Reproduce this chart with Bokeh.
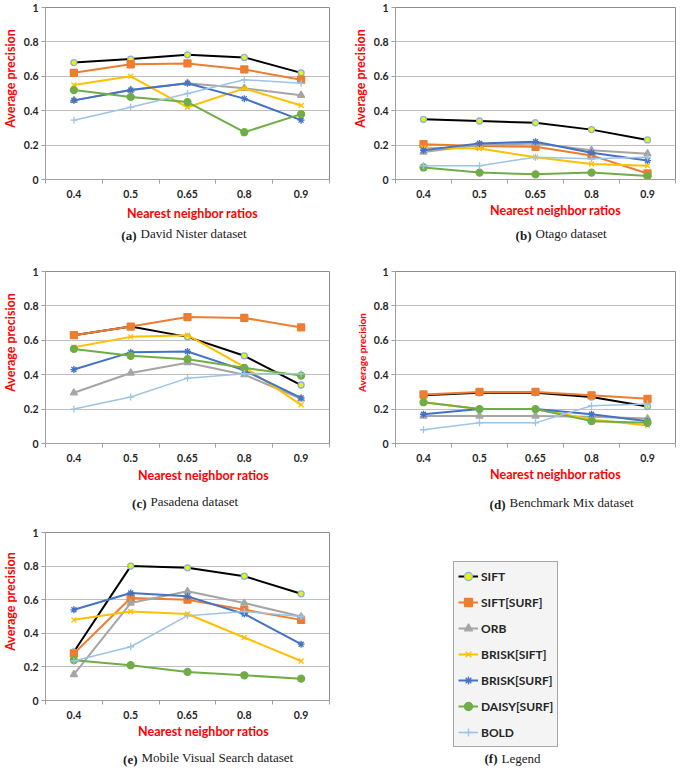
import math
from bokeh.plotting import figure
from bokeh.layouts import column, row
from bokeh.models import Range1d, FixedTicker, Label, Legend, LegendItem, ColumnDataSource
from bokeh.embed import file_html
from bokeh.resources import INLINE

# ---------------- data ----------------
ratios = ["0.4", "0.5", "0.65", "0.8", "0.9"]
methods = ["SIFT", "SIFT[SURF]", "ORB", "BRISK[SIFT]", "BRISK[SURF]", "DAISY[SURF]", "BOLD"]
y_ticks = [0, 0.2, 0.4, 0.6, 0.8, 1.0]
y_tick_labels = ["0", "0.2", "0.4", "0.6", "0.8", "1"]

# (a) David Nister dataset
nister_sift = [0.68, 0.70, 0.725, 0.71, 0.62]
nister_sift_surf = [0.62, 0.67, 0.675, 0.64, 0.58]
nister_orb = [0.46, 0.52, 0.56, 0.53, 0.49]
nister_brisk_sift = [0.55, 0.60, 0.42, 0.53, 0.43]
nister_brisk_surf = [0.46, 0.52, 0.56, 0.47, 0.345]
nister_daisy_surf = [0.52, 0.48, 0.45, 0.275, 0.38]
nister_bold = [0.345, 0.42, 0.50, 0.58, 0.56]

# (b) Otago dataset
otago_sift = [0.35, 0.34, 0.33, 0.29, 0.23]
otago_sift_surf = [0.205, 0.195, 0.19, 0.14, 0.035]
otago_orb = [0.16, 0.20, 0.21, 0.17, 0.15]
otago_brisk_sift = [0.185, 0.18, 0.13, 0.09, 0.08]
otago_brisk_surf = [0.17, 0.21, 0.22, 0.155, 0.11]
otago_daisy_surf = [0.07, 0.04, 0.03, 0.04, 0.02]
otago_bold = [0.08, 0.08, 0.13, 0.12, 0.13]

# (c) Pasadena dataset
pasadena_sift = [0.63, 0.68, 0.62, 0.51, 0.34]
pasadena_sift_surf = [0.63, 0.68, 0.735, 0.73, 0.675]
pasadena_orb = [0.295, 0.41, 0.47, 0.40, 0.26]
pasadena_brisk_sift = [0.56, 0.62, 0.63, 0.445, 0.225]
pasadena_brisk_surf = [0.43, 0.53, 0.535, 0.425, 0.265]
pasadena_daisy_surf = [0.55, 0.51, 0.49, 0.44, 0.395]
pasadena_bold = [0.20, 0.27, 0.38, 0.405, 0.405]

# (d) Benchmark Mix dataset
mix_sift = [0.28, 0.295, 0.295, 0.27, 0.215]
mix_sift_surf = [0.285, 0.30, 0.30, 0.28, 0.26]
mix_orb = [0.16, 0.16, 0.16, 0.155, 0.145]
mix_brisk_sift = [0.24, 0.20, 0.20, 0.14, 0.105]
mix_brisk_surf = [0.17, 0.20, 0.20, 0.17, 0.13]
mix_daisy_surf = [0.24, 0.20, 0.20, 0.13, 0.12]
mix_bold = [0.08, 0.12, 0.12, 0.22, 0.23]

# (e) Mobile Visual Search dataset
mvs_sift = [0.29, 0.80, 0.79, 0.74, 0.635]
mvs_sift_surf = [0.28, 0.61, 0.60, 0.54, 0.48]
mvs_orb = [0.155, 0.58, 0.65, 0.58, 0.50]
mvs_brisk_sift = [0.48, 0.53, 0.515, 0.375, 0.235]
mvs_brisk_surf = [0.54, 0.64, 0.62, 0.515, 0.335]
mvs_daisy_surf = [0.24, 0.21, 0.17, 0.15, 0.13]
mvs_bold = [0.235, 0.32, 0.505, 0.53, 0.50]

# ---------------- styles ----------------
STYLE = {
    "SIFT":        dict(line="#000000", marker="circle",   fill="#F2F200", edge="#7FB2E5", size=6, lw=2),
    "SIFT[SURF]":  dict(line="#ED7D31", marker="square",   fill="#ED7D31", edge="#ED7D31", size=7, lw=2),
    "ORB":         dict(line="#A5A5A5", marker="triangle", fill="#A5A5A5", edge="#A5A5A5", size=7, lw=2),
    "BRISK[SIFT]": dict(line="#FFC000", marker="x",        fill="#FFC000", edge="#FFC000", size=7, lw=2),
    "BRISK[SURF]": dict(line="#4472C4", marker="asterisk", fill="#4472C4", edge="#4472C4", size=7, lw=2),
    "DAISY[SURF]": dict(line="#70AD47", marker="circle",   fill="#70AD47", edge="#70AD47", size=7, lw=2),
    "BOLD":        dict(line="#9DC3E6", marker="cross",    fill="#9DC3E6", edge="#9DC3E6", size=7, lw=1.5),
}
SANS = "Lato"
SERIF = "Liberation Serif"
RED = "#FF0000"
AXIS_GRAY = "#A0A0A0"
TXT = "#1a1a1a"

# estimated sizes of stacked side-panel items (px)
H_AXIS = 19.0
H_XT = 15.0
H_CAP = 16.4
W_YAXIS = 22.0
H_YT = {12.5: 15.0, 10: 12.0}

LEFT = dict(width=337, bl=45, br=8)
RIGHT = dict(width=340, bl=58, br=2)
ROWS = [dict(height=265, bt=7, fh=172), dict(height=261, bt=6, fh=172), dict(height=243, bt=6, fh=168)]


def base_figure(col, rw, y_range=(0, 1), axes=True):
    kw = dict(width=col["width"], height=rw["height"],
              x_range=Range1d(-0.5, len(ratios) - 0.5), y_range=Range1d(*y_range),
              toolbar_location=None, output_backend="svg",
              min_border_left=col["bl"], min_border_right=col["br"],
              min_border_top=rw["bt"],
              min_border_bottom=rw["height"] - rw["bt"] - rw["fh"])
    if not axes:
        kw.update(x_axis_type=None, y_axis_type=None)
    p = figure(**kw)
    p.background_fill_color = "white"
    p.border_fill_color = "white"
    return p


def draw_series(p, series):
    xs = list(range(len(ratios)))
    rends = []
    for m, ys in zip(methods, series):
        st = STYLE[m]
        src = ColumnDataSource(dict(x=xs, y=ys))
        lr = p.line("x", "y", source=src, line_color=st["line"], line_width=st["lw"])
        sr = p.scatter("x", "y", source=src, marker=st["marker"], size=st["size"],
                       fill_color=st["fill"], line_color=st["edge"], line_width=1.3)
        rends.append((lr, sr))
    return rends


def add_caption(p, letter, caption, right_x, target, start):
    """Two labels in the bottom panel: bold letter + normal caption text."""
    off = start + H_CAP
    p.add_layout(Label(x=right_x, y=off - target, x_units="screen", y_units="screen",
                       text=f"({letter})", text_font=SERIF, text_font_style="bold",
                       text_font_size="13px", text_color=TXT,
                       text_align="right", text_baseline="middle"), "below")
    off += H_CAP
    p.add_layout(Label(x=right_x + 4, y=off - target, x_units="screen", y_units="screen",
                       text=caption, text_font=SERIF, text_font_style="normal",
                       text_font_size="13px", text_color=TXT,
                       text_align="left", text_baseline="middle"), "below")


def make_panel(series, col, rw, letter, caption, cap_x, cap_y, xt_x, xt_y, yt_size, yt_x, yt_dy):
    p = base_figure(col, rw)
    p.outline_line_color = "#8C8C8C"
    p.outline_line_width = 1
    draw_series(p, series)

    xs = list(range(len(ratios)))
    xa = p.xaxis[0]
    xa.ticker = FixedTicker(ticks=xs, minor_ticks=[i - 0.5 for i in range(len(ratios) + 1)])
    xa.major_label_overrides = {i: r for i, r in enumerate(ratios)}
    xa.major_tick_out = 0
    xa.major_tick_in = 0
    xa.minor_tick_out = 4
    xa.minor_tick_in = 0
    xa.minor_tick_line_color = AXIS_GRAY
    xa.axis_line_color = AXIS_GRAY
    xa.major_label_standoff = 6
    xa.major_label_text_font = SANS
    xa.major_label_text_font_style = "bold"
    xa.major_label_text_font_size = "10.5px"
    xa.major_label_text_color = "#262626"

    ya = p.yaxis[0]
    ya.ticker = FixedTicker(ticks=y_ticks)
    ya.major_label_overrides = {t: l for t, l in zip(y_ticks, y_tick_labels)}
    ya.major_tick_out = 4
    ya.major_tick_in = 0
    ya.minor_tick_out = 0
    ya.minor_tick_in = 0
    ya.major_tick_line_color = AXIS_GRAY
    ya.axis_line_color = AXIS_GRAY
    ya.major_label_standoff = 3
    ya.major_label_text_font = SANS
    ya.major_label_text_font_style = "bold"
    ya.major_label_text_font_size = "10.5px"
    ya.major_label_text_color = "#262626"

    p.xgrid.visible = False
    p.ygrid.ticker = FixedTicker(ticks=y_ticks)
    p.ygrid.grid_line_color = "#BFBFBF"
    p.ygrid.grid_line_width = 1

    # y-axis title (left panel label, rotated)
    p.add_layout(Label(x=yt_x + W_YAXIS + H_YT[yt_size], y=rw["fh"] / 2 + yt_dy,
                       x_units="screen", y_units="screen", angle=math.pi / 2,
                       text="Average precision", text_font=SANS, text_font_style="bold",
                       text_font_size=f"{yt_size}px", text_color=RED,
                       text_align="center", text_baseline="middle"), "left")

    # x-axis title (bottom panel label)
    off = H_AXIS + H_XT
    p.add_layout(Label(x=xt_x, y=off - xt_y, x_units="screen", y_units="screen",
                       text="Nearest neighbor ratios", text_font=SANS, text_font_style="bold",
                       text_font_size="12.5px", text_color=RED,
                       text_align="center", text_baseline="middle"), "below")
    add_caption(p, letter, caption, cap_x, cap_y, off)
    return p


pa = make_panel([nister_sift, nister_sift_surf, nister_orb, nister_brisk_sift,
                 nister_brisk_surf, nister_daisy_surf, nister_bold],
                LEFT, ROWS[0], "a", "David Nister dataset", 91, 55, 147, 32, 12.5, -32, 15)
pb = make_panel([otago_sift, otago_sift_surf, otago_orb, otago_brisk_sift,
                 otago_brisk_surf, otago_daisy_surf, otago_bold],
                RIGHT, ROWS[0], "b", "Otago dataset", 136, 55, 160, 29, 12.5, -32, 15)
pc = make_panel([pasadena_sift, pasadena_sift_surf, pasadena_orb, pasadena_brisk_sift,
                 pasadena_brisk_surf, pasadena_daisy_surf, pasadena_bold],
                LEFT, ROWS[1], "c", "Pasadena dataset", 101, 59, 158, 30, 12.5, -32, 15)
pd_ = make_panel([mix_sift, mix_sift_surf, mix_orb, mix_brisk_sift,
                  mix_brisk_surf, mix_daisy_surf, mix_bold],
                 RIGHT, ROWS[1], "d", "Benchmark Mix dataset", 110, 60, 160, 29, 10, -31, 5)
pe = make_panel([mvs_sift, mvs_sift_surf, mvs_orb, mvs_brisk_sift,
                 mvs_brisk_surf, mvs_daisy_surf, mvs_bold],
                LEFT, ROWS[2], "e", "Mobile Visual Search dataset", 92, 58, 158, 29, 12.5, -32, 15)

# ---------------- legend panel ----------------
# the frame fills the whole panel; the series sit outside the visible y range,
# so only the legend (and caption) show
pl = figure(width=RIGHT["width"], height=ROWS[2]["height"], x_axis_type=None, y_axis_type=None,
            x_range=Range1d(-0.5, len(ratios) - 0.5), y_range=Range1d(2, 3),
            toolbar_location=None, output_backend="svg",
            min_border_left=RIGHT["bl"], min_border_right=RIGHT["br"],
            min_border_top=0, min_border_bottom=0)
pl.outline_line_color = None
pl.background_fill_color = "white"
pl.border_fill_color = "white"
rends = draw_series(pl, [mvs_sift, mvs_sift_surf, mvs_orb, mvs_brisk_sift,
                         mvs_brisk_surf, mvs_daisy_surf, mvs_bold])
items = [LegendItem(label=m, renderers=list(r)) for m, r in zip(methods, rends)]
legend = Legend(items=items, location=(58, 22), orientation="vertical",
                label_text_font=SANS, label_text_font_style="bold", label_text_font_size="12px",
                label_text_color="#262626", glyph_width=20, glyph_height=20, label_height=20,
                label_standoff=3, spacing=6, padding=4, margin=0,
                border_line_color="#595959", border_line_width=1,
                background_fill_color="#F4F4F4", background_fill_alpha=1)
pl.add_layout(legend)
pl.add_layout(Label(x=102, y=11, x_units="screen", y_units="screen", text="(f)",
                    text_font=SERIF, text_font_style="bold", text_font_size="13px",
                    text_color=TXT, text_align="right", text_baseline="middle"))
pl.add_layout(Label(x=106, y=11, x_units="screen", y_units="screen", text="Legend",
                    text_font=SERIF, text_font_style="normal", text_font_size="13px",
                    text_color=TXT, text_align="left", text_baseline="middle"))

layout = row(column(pa, pc, pe), column(pb, pd_, pl))

with open("out.html", "w") as f:
    f.write(file_html(layout, INLINE))
